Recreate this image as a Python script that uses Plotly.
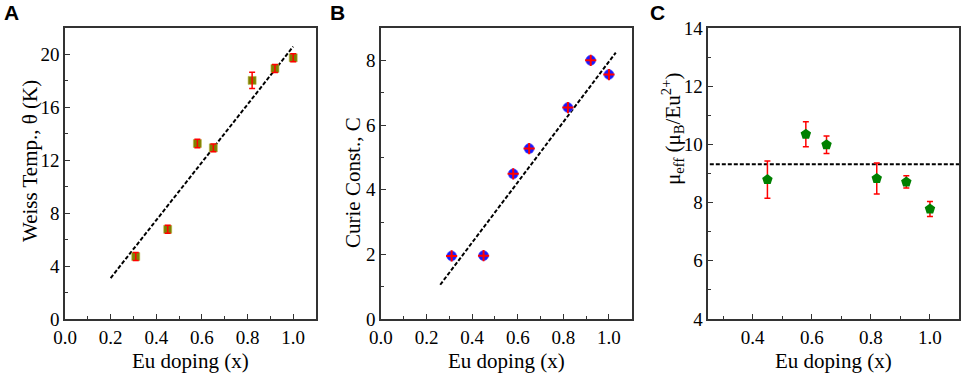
import plotly.graph_objects as go

# ---- data ----
eu_x = [0.31, 0.45, 0.58, 0.65, 0.82, 0.92, 1.0]
weiss_theta = [4.72, 6.78, 13.27, 12.94, 18.04, 18.94, 19.75]
weiss_err = [0.3, 0.3, 0.32, 0.3, 0.62, 0.3, 0.3]
weiss_fit_x = [0.2, 1.0]
weiss_fit_y = [3.1, 20.6]

curie_c = [1.95, 1.96, 4.49, 5.27, 6.54, 8.0, 7.56]
curie_fit_x = [0.26, 1.03]
curie_fit_y = [1.06, 8.24]

mu_x = [0.45, 0.58, 0.65, 0.82, 0.92, 1.0]
mu_eff = [8.79, 10.35, 9.99, 8.83, 8.71, 7.78]
mu_err = [0.64, 0.43, 0.30, 0.53, 0.21, 0.26]
mu_ref_x = [0.255, 1.1]
mu_ref_y = [9.32, 9.32]

serif = "Liberation Serif"
fig = go.Figure()

# Panel A
fig.add_trace(go.Scatter(x=weiss_fit_x, y=weiss_fit_y, mode="lines",
                         line=dict(color="black", width=2, dash="4px,2px"),
                         xaxis="x", yaxis="y", showlegend=False))
fig.add_trace(go.Scatter(x=eu_x, y=weiss_theta, mode="markers",
                         marker=dict(symbol="square", size=8, color="#808000",
                                     line=dict(color="#b5b54a", width=0.6)),
                         xaxis="x", yaxis="y", showlegend=False))
fig.add_trace(go.Scatter(x=eu_x, y=weiss_theta, mode="markers",
                         marker=dict(size=1, color="rgba(0,0,0,0)"),
                         error_y=dict(type="data", array=weiss_err, color="red",
                                      thickness=1.5, width=3),
                         xaxis="x", yaxis="y", showlegend=False))

# Panel B
fig.add_trace(go.Scatter(x=curie_fit_x, y=curie_fit_y, mode="lines",
                         line=dict(color="black", width=2, dash="4px,2px"),
                         xaxis="x2", yaxis="y2", showlegend=False))
fig.add_trace(go.Scatter(x=eu_x, y=curie_c, mode="markers",
                         marker=dict(symbol="circle", size=10, color="#1a1aff",
                                     line=dict(color="#6a6aff", width=0.6)),
                         xaxis="x2", yaxis="y2", showlegend=False))
fig.add_trace(go.Scatter(x=eu_x, y=curie_c, mode="markers",
                         marker=dict(symbol="cross-thin", size=8, color="red",
                                     line=dict(color="red", width=2)),
                         xaxis="x2", yaxis="y2", showlegend=False))

# Panel C
fig.add_trace(go.Scatter(x=mu_ref_x, y=mu_ref_y, mode="lines",
                         line=dict(color="black", width=2, dash="4px,2px"),
                         xaxis="x3", yaxis="y3", showlegend=False))
fig.add_trace(go.Scatter(x=mu_x, y=mu_eff, mode="markers",
                         marker=dict(symbol="pentagon", size=11, color="#008000",
                                     line=dict(width=0)),
                         error_y=dict(type="data", array=mu_err, color="red",
                                      thickness=1.5, width=3),
                         xaxis="x3", yaxis="y3", showlegend=False))

tickfont = dict(family=serif, size=19, color="black")
minor = dict(ticks="inside", ticklen=3, tickwidth=1.2, tickcolor="#333")
common = dict(showline=True, mirror=True, linecolor="#333", linewidth=1.5,
              ticks="inside", ticklen=5, tickwidth=1.2, tickcolor="#333",
              showgrid=False, zeroline=False, tickfont=tickfont, automargin=False)

ydom = [0.1538, 0.9257]
fig.update_layout(
    width=962, height=377,
    margin=dict(l=0, r=0, t=0, b=0, autoexpand=False),
    plot_bgcolor="white", paper_bgcolor="white",
    xaxis=dict(common, domain=[0.0676, 0.3285], range=[0, 1.1], anchor="y",
               dtick=0.2, tick0=0, tickformat=".1f", minor=dict(minor, dtick=0.1)),
    yaxis=dict(common, domain=ydom, range=[0, 22], dtick=4, tick0=0, anchor="x",
               minor=dict(minor, dtick=2)),
    xaxis2=dict(common, domain=[0.396, 0.6567], range=[0, 1.1], anchor="y2",
                dtick=0.2, tick0=0, tickformat=".1f", minor=dict(minor, dtick=0.1)),
    yaxis2=dict(common, domain=ydom, range=[0, 9], dtick=2, tick0=0, anchor="x2",
                minor=dict(minor, dtick=1)),
    xaxis3=dict(common, domain=[0.7363, 0.9974], range=[0.25, 1.1], anchor="y3",
                dtick=0.2, tick0=0, tickformat=".1f", minor=dict(minor, dtick=0.1)),
    yaxis3=dict(common, domain=ydom, range=[4, 14], dtick=2, tick0=0, anchor="x3",
                minor=dict(minor, dtick=1)),
)

titlefont = dict(family=serif, size=21, color="black")
letterfont = dict(family="Liberation Sans", size=21, color="black")
ann = []
for xc, txt in [(190, "Eu doping (x)"), (507, "Eu doping (x)"), (833, "Eu doping (x)")]:
    ann.append(dict(x=xc / 962, y=1 - 361 / 377, xref="paper", yref="paper",
                    text=txt, showarrow=False, font=titlefont,
                    xanchor="center", yanchor="middle"))
for xc, yc, txt in [(30, 161, "Weiss Temp., θ (K)"),
                    (353, 183, "Curie Const., C"),
                    (672, 129, "μ<sub>eff</sub> (μ<sub>B</sub>/Eu<sup>2+</sup>)")]:
    ann.append(dict(x=xc / 962, y=1 - yc / 377, xref="paper", yref="paper",
                    text=txt, showarrow=False, font=titlefont, textangle=-90,
                    xanchor="center", yanchor="middle"))
for xc, txt in [(11, "<b>A</b>"), (337, "<b>B</b>"), (657, "<b>C</b>")]:
    ann.append(dict(x=xc / 962, y=1 - 13 / 377, xref="paper", yref="paper",
                    text=txt, showarrow=False, font=letterfont,
                    xanchor="center", yanchor="middle"))
fig.update_layout(annotations=ann)

fig.write_html("out.html", config={"displayModeBar": False},
               post_script="document.body.style.margin='0';document.body.style.overflow='hidden';")
